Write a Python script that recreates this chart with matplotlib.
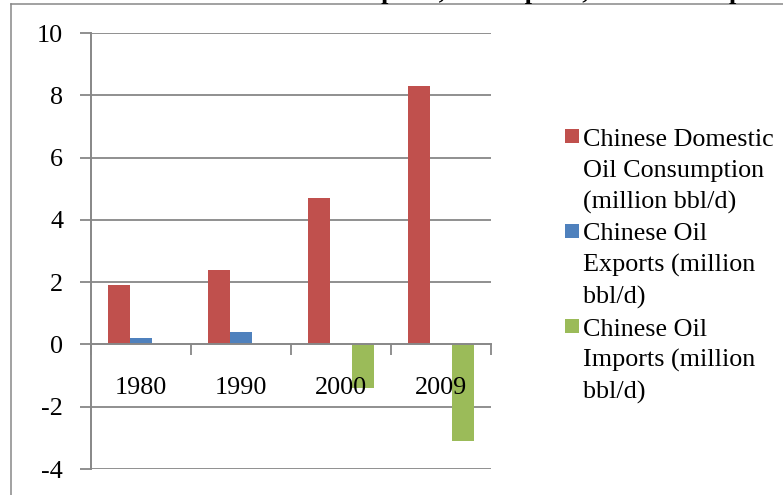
import matplotlib
matplotlib.use("Agg")
import matplotlib.pyplot as plt
from matplotlib.lines import Line2D
from matplotlib.patches import Rectangle
import numpy as np

# ---- data -------------------------------------------------------------
years = ["1980", "1990", "2000", "2009"]
consumption = [1.9, 2.4, 4.7, 8.3]     # million bbl/d
exports = [0.2, 0.4, 0.0, 0.0]         # million bbl/d
imports = [0.0, 0.0, -1.4, -3.1]       # million bbl/d (shown as negative)
series_labels = [
    "Chinese Domestic\nOil Consumption\n(million bbl/d)",
    "Chinese Oil\nExports (million\nbbl/d)",
    "Chinese Oil\nImports (million\nbbl/d)",
]
series_colors = ["#C0504D", "#4F81BD", "#9BBB59"]
y_ticks = [-4, -2, 0, 2, 4, 6, 8, 10]
title = "Chinese Oil Exports, Oil Imports, Oil Consumption (1980-2009)"

# ---- style ------------------------------------------------------------
W, H = 783, 495
FONT = "Liberation Serif"
FS = 18.8
GRID = "#878787"
plt.rcParams["font.family"] = [FONT, "DejaVu Serif"]

fig = plt.figure(figsize=(W / 100, H / 100), dpi=100)
ax = fig.add_axes([91 / W, 1 - 469 / H, 400 / W, 436 / H])

series = [consumption, exports, imports]
n_cat = len(years)
x = np.arange(n_cat) + 0.5
bw = 0.223
for k, (vals, col) in enumerate(zip(series, series_colors)):
    ax.bar(x + (k - 1) * bw, vals, width=bw, color=col, linewidth=0, zorder=2)

# horizontal gridlines behind the bars
for v in y_ticks:
    if v != 0:
        ax.axhline(v, color=GRID, lw=1.3, zorder=0.5)

ax.set_xlim(0, n_cat)
ax.set_ylim(y_ticks[0], y_ticks[-1])
ax.set_yticks(y_ticks)
ax.set_yticklabels([str(v) for v in y_ticks], fontsize=FS)
ax.tick_params(axis="y", direction="out", length=8, width=1.3, color=GRID, pad=12)

# category axis sits on the zero line, ticks between the groups
ax.spines["bottom"].set_position(("data", 0))
ax.set_xticks(np.arange(n_cat + 1))
ax.set_xticklabels([])
ax.tick_params(axis="x", direction="out", length=8, width=1.3, color=GRID)
for s in ("top", "right"):
    ax.spines[s].set_visible(False)
for s in ("left", "bottom"):
    ax.spines[s].set_color(GRID)
    ax.spines[s].set_linewidth(1.4)
ax.set_axisbelow(False)

for xi, lab in zip(x, years):
    ax.text(xi, -1.593, lab, ha="center", va="baseline", fontsize=FS, zorder=5)

# ---- legend -----------------------------------------------------------
entry_gap = 95.0
line_gap = 31.3
for i, (lab, col) in enumerate(zip(series_labels, series_colors)):
    base = 145.5 + i * entry_gap
    fig.patches.append(Rectangle((565 / W, 1 - (base - 2.5) / H), 14 / W, 14 / H,
                                 transform=fig.transFigure, color=col, lw=0))
    for j, line in enumerate(lab.split("\n")):
        fig.text(583 / W, 1 - (base + j * line_gap) / H, line,
                 ha="left", va="baseline", fontsize=FS)

# ---- chart frame and title (title runs off the top edge) -------------
fig.add_artist(Line2D([11 / W, 11 / W], [0, 1 - 4 / H], color=GRID, lw=1.1,
                      transform=fig.transFigure))
fig.add_artist(Line2D([11 / W, 1], [1 - 4 / H, 1 - 4 / H], color=GRID, lw=1.1,
                      transform=fig.transFigure))
fig.text(215 / W, 1 + 1.8 / H, title, ha="left", va="baseline",
         fontsize=18.7, fontweight="bold")

fig.savefig("out.png", dpi=100)
